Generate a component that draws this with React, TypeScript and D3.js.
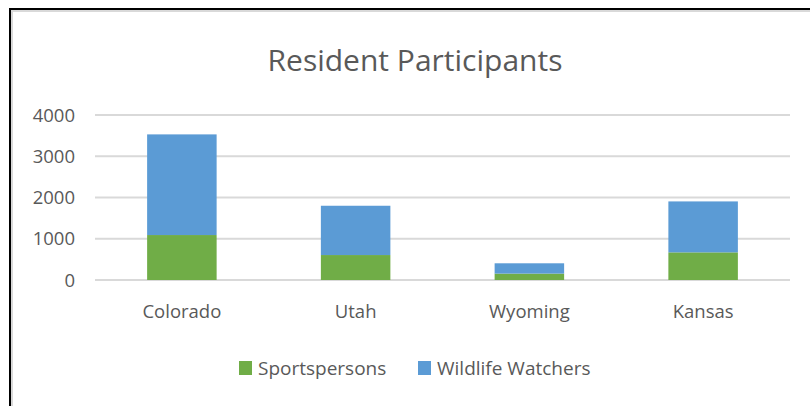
import React, { useEffect, useRef } from 'react';
import * as d3 from 'd3';

const states = ['Colorado', 'Utah', 'Wyoming', 'Kansas'];
const sportspersons = [1090, 605, 155, 670];
const wildlifeWatchers = [2440, 1195, 250, 1235];
const yTicks = [0, 1000, 2000, 3000, 4000];
const seriesNames = ['Sportspersons', 'Wildlife Watchers'];
const seriesColors = ['#70ad47', '#5b9bd5'];

const FONT = "'Open Sans', 'Noto Sans', sans-serif";

const App = () => {
  const ref = useRef<SVGSVGElement | null>(null);

  useEffect(() => {
    if (!ref.current) return;
    const svg = d3.select(ref.current);
    svg.selectAll('*').remove();

    const plot = { left: 95, right: 790, top: 115, bottom: 280 };

    // chart frame (only left and top edges are visible in the crop)
    svg.append('rect').attr('x', 12).attr('y', 11).attr('width', 820).attr('height', 420)
      .attr('fill', 'none').attr('stroke', '#d9d9d9').attr('stroke-width', 2);
    svg.append('rect').attr('x', 10).attr('y', 9).attr('width', 820).attr('height', 420)
      .attr('fill', 'none').attr('stroke', '#000').attr('stroke-width', 2);

    // title
    svg.append('text')
      .attr('x', 415).attr('y', 71)
      .attr('text-anchor', 'middle')
      .style('font-family', FONT).style('font-size', '30px').style('fill', '#595959')
      .text('Resident Participants');

    const x = d3.scaleBand<string>()
      .domain(states)
      .range([plot.left, plot.right])
      .paddingInner(0.6)
      .paddingOuter(0.3);

    const y = d3.scaleLinear().domain([0, 4000]).range([plot.bottom, plot.top]);

    // gridlines
    svg.append('g').selectAll('line').data(yTicks).enter().append('line')
      .attr('x1', plot.left).attr('x2', plot.right)
      .attr('y1', d => y(d)).attr('y2', d => y(d))
      .attr('stroke', '#d9d9d9').attr('stroke-width', 2);

    // y labels
    svg.append('g').selectAll('text').data(yTicks).enter().append('text')
      .attr('x', 75).attr('y', d => y(d)).attr('dy', '0.36em')
      .attr('text-anchor', 'end')
      .style('font-family', FONT).style('font-size', '18.5px').style('fill', '#595959')
      .text(d => String(d));

    // stacked bars
    const rows = states.map((s, i) => ({ state: s, Sportspersons: sportspersons[i], 'Wildlife Watchers': wildlifeWatchers[i] }));
    const stack = d3.stack<any>().keys(seriesNames)(rows);
    stack.forEach((layer, li) => {
      svg.append('g').selectAll('rect').data(layer).enter().append('rect')
        .attr('x', d => x(d.data.state)!)
        .attr('width', x.bandwidth())
        .attr('y', d => y(d[1]))
        .attr('height', d => y(d[0]) - y(d[1]))
        .attr('fill', seriesColors[li]);
    });

    // category labels
    svg.append('g').selectAll('text').data(states).enter().append('text')
      .attr('x', d => x(d)! + x.bandwidth() / 2).attr('y', 318)
      .attr('text-anchor', 'middle')
      .style('font-family', FONT).style('font-size', '18.5px').style('fill', '#595959')
      .text(d => d);

    // legend
    const legendX = [239, 418];
    seriesNames.forEach((name, i) => {
      svg.append('rect').attr('x', legendX[i]).attr('y', 361).attr('width', 13).attr('height', 14)
        .attr('fill', seriesColors[i]);
      svg.append('text').attr('x', legendX[i] + 19).attr('y', 375)
        .style('font-family', FONT).style('font-size', '19px').style('fill', '#595959')
        .text(name);
    });
  }, []);

  return (
    <svg ref={ref} width={810} height={406}
      style={{ position: 'absolute', left: 0, top: 0, background: '#fff' }} />
  );
};

export default App;
